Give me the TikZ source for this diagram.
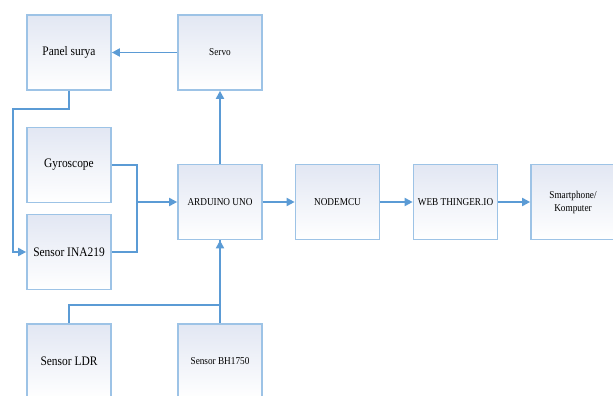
\documentclass[tikz,border=0pt]{standalone}
\usepackage{fontspec}
\setmainfont[FakeStretch=0.88]{Liberation Serif}
\usetikzlibrary{arrows.meta}
\definecolor{boxline}{HTML}{9DC3E6}
\definecolor{arrline}{HTML}{5B9BD5}
\definecolor{boxfill}{HTML}{E2E7F3}
\tikzset{
  blok/.style={draw=boxline, line width=1.7pt, minimum width=84pt, minimum height=75pt,
    inner sep=1pt, align=center, shading angle=135, top color=boxfill, bottom color=white},
  besar/.style={font=\fontsize{13}{15}\selectfont},
  kecil/.style={font=\fontsize{10.5}{13}\selectfont},
  garis/.style={draw=arrline, line width=1.9pt},
  panah/.style={garis, -{Triangle[width=8pt,length=8pt]}}
}
\begin{document}
\begin{tikzpicture}[x=1pt,y=-1pt]
\clip (0,0) rectangle (613,396);
  % Draw blocks
  \node[blok,besar] (panel) at (69,52.5) {Panel surya};
  \node[blok,kecil] (servo) at (220,52.5) {Servo};
  \node[blok,besar] (gyro) at (69,165) {Gyroscope};
  \node[blok,besar] (ina) at (69,252) {Sensor INA219};
  \node[blok,kecil] (arduino) at (220,202) {ARDUINO UNO};
  \node[blok,besar] (ldr) at (69,361.5) {Sensor LDR};
  \node[blok,kecil] (bh) at (220,361.5) {Sensor BH1750};
  \node[blok,kecil] (nodemcu) at (337.5,202) {NODEMCU};
  \node[blok,kecil] (web) at (455.5,202) {WEB THINGER.IO};
  \node[blok,kecil] (hp) at (573,202) {Smartphone/\\Komputer};
  % Draw connectors
  \coordinate (gabung) at (137,202);
  \draw[panah] (servo) -- (panel);
  \draw[panah] (arduino) -- (servo);
  \draw[panah] (panel.south) -- ++(0,18) -| ([xshift=-13pt]ina.west) -- (ina.west);
  \draw[garis] (gyro.east) -| (gabung);
  \draw[garis] (ina.east) -| (gabung);
  \draw[panah] (gabung) -- (arduino.west);
  \draw[garis] (ldr.north) -- ++(0,-18) -| (bh.north |- arduino.south);
  \draw[panah] (bh.north) -- (arduino.south);
  \foreach \a/\b in {arduino/nodemcu,nodemcu/web,web/hp}
    \draw[panah] (\a) -- (\b);
\end{tikzpicture}
\end{document}
